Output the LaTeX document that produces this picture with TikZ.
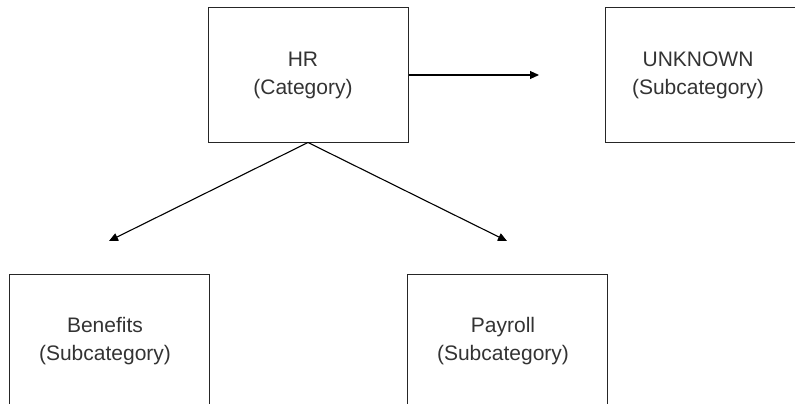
\documentclass[tikz,border=0pt]{standalone}
\usepackage{fontspec}
\setmainfont{Liberation Sans}
\usetikzlibrary{arrows.meta}
\begin{document}
\begin{tikzpicture}[x=1pt,y=-1pt,
  box/.style={draw=black!85, line width=1pt, minimum width=200pt, minimum height=134pt, inner sep=0pt},
  lbl/.style={align=center, font=\fontsize{21}{28}\selectfont, text=black!80},
  conn/.style={line width=1.1pt, -{Triangle[length=9pt,width=8pt]}}]
\useasboundingbox (0,0) rectangle (795,404);
\clip (0,0) rectangle (795,404);
\node[box] (hr) at (308,75) {};
\node[box] (unk) at (705,75) {};
\node[box] (ben) at (109,341) {};
\node[box] (pay) at (507,341) {};
\node[lbl] (hrt) at ([xshift=-5pt]hr.center) {HR\\(Category)};
\node[lbl] (unkt) at ([xshift=-7pt]unk.center) {UNKNOWN\\(Subcategory)};
\node[lbl] (bent) at ([xshift=-4pt]ben.center) {Benefits\\(Subcategory)};
\node[lbl] (payt) at ([xshift=-4pt]pay.center) {Payroll\\(Subcategory)};
\coordinate (e1) at (539,75);
\coordinate (e2) at (109,241);
\coordinate (e3) at (507,241);
\draw[conn] (hr.east) -- (e1);
\draw[conn] (hr.south) -- (e2);
\draw[conn] (hr.south) -- (e3);
\end{tikzpicture}
\end{document}
